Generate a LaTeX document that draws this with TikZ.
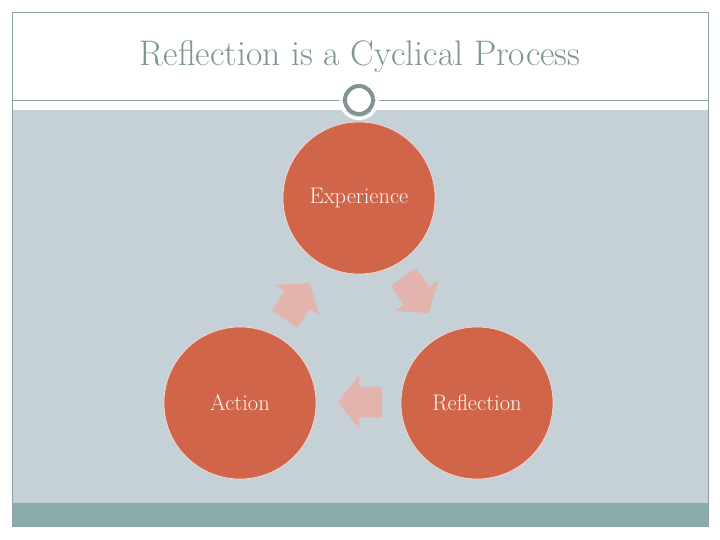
\documentclass[tikz,border=0pt]{standalone}
\usepackage{tikz}
\usetikzlibrary{arrows.meta,positioning}
\definecolor{cycRed}{HTML}{D1654A}
\definecolor{cycPink}{HTML}{E3B4AE}
\definecolor{cycSlate}{HTML}{C6D1D7}
\definecolor{cycTeal}{HTML}{8AABAB}
\definecolor{cycFrame}{HTML}{8FA3A5}
\definecolor{cycTitle}{HTML}{7C9595}
\tikzset{
  % Stage of the cycle.
  cyc/stage/.style={
    circle, fill=cycRed, draw=white!80!cycRed, line width=0.6pt,
    minimum size=152pt, inner sep=0pt, font=\fontsize{22.5}{26}\selectfont,
    text=white!94!orange
  },
  % Block arrow between stages, drawn pointing east.
  cyc/arrow/.style={fill=cycPink},
}
\begin{document}
\begin{tikzpicture}[x=1pt,y=-1pt]
  \useasboundingbox (0,0) rectangle (720,540);

  % slide background
  \fill[cycSlate] (12,110) rectangle (708,503);
  \fill[cycTeal] (12,503) rectangle (708,526);
  \draw[cycFrame, line width=0.8pt] (12,12) rectangle (708,526);
  \draw[cycFrame, line width=0.8pt] (12,100) -- (708,100);

  \node[font=\fontsize{35.5}{42}\selectfont, text=cycTitle, anchor=base] (title) at (360,66)
       {Reflection is a Cyclical Process};

  \node[cyc/stage] (exp) at (359,198) {Experience};
  \node[cyc/stage] (act) at (240,403) {Action};
  \node[cyc/stage] (ref) at (477,403) {Reflection};

  \node[circle, draw=cycFrame!90!black, line width=4pt, fill=white, minimum size=28pt,
        inner sep=0pt] (ring) at (359,100) {};
  \draw[white, line width=3pt] (ring) circle (18.5pt);

  % block arrows: centre / angle
  \foreach \cx/\cy/\ang in {297/301/55, 416/295/-55, 360/402/180}{
    \begin{scope}[shift={(\cx,\cy)}, rotate=\ang, y=1pt]
      \fill[cyc/arrow] (-22,-15.5) -- (1,-15.5) -- (1,-26.5) -- (22,0)
        -- (1,26.5) -- (1,15.5) -- (-22,15.5) -- cycle;
    \end{scope}}
\end{tikzpicture}
\end{document}
